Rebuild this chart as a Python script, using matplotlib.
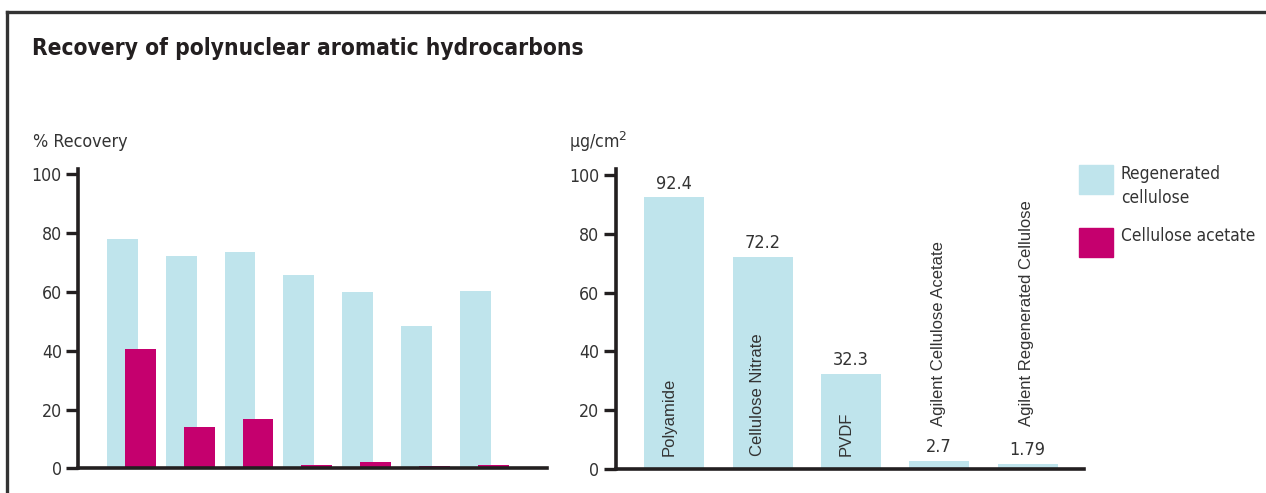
import numpy as np
from matplotlib import pyplot as plt
from matplotlib.lines import Line2D
from matplotlib.patches import Rectangle
from matplotlib import font_manager as fm

# data
groups = np.arange(7)
regenerated = [78.1, 72.2, 73.6, 65.8, 59.9, 48.3, 60.3]
acetate = [40.5, 14.1, 16.9, 1.1, 2.2, 0.8, 1.1]

membranes = ["Polyamide", "Cellulose Nitrate", "PVDF",
             "Agilent Cellulose Acetate", "Agilent Regenerated Cellulose"]
extract = [92.4, 72.2, 32.3, 2.7, 1.79]
extract_lbl = ["92.4", "72.2", "32.3", "2.7", "1.79"]
yticks = [0, 20, 40, 60, 80, 100]

blue = "#bfe4ec"
pink = "#c5006e"
ink = "#231f20"
grey = "#333333"

# look for a narrow sans face, fall back to Liberation Sans
def find_face(bold):
    best = None
    for f in fm.fontManager.ttflist:
        narrow = ("Narrow" in f.name or "Condensed" in f.name
                  or f.stretch in ("condensed", "semi-condensed", "extra-condensed"))
        if not narrow or f.style != "normal" or "Mono" in f.name or "Serif" in f.name:
            continue
        w = f.weight if isinstance(f.weight, int) else (700 if f.weight == "bold" else 400)
        if (w >= 600) == bold:
            best = f.fname
            break
    if best:
        return fm.FontProperties(fname=best)
    return fm.FontProperties(family=["Liberation Sans", "DejaVu Sans"],
                             weight="bold" if bold else "normal")

reg_fp = find_face(False)
bold_fp = find_face(True)
arial = fm.FontProperties(family=["Liberation Sans", "DejaVu Sans"])

fig = plt.figure(figsize=(12.66, 4.93), dpi=100)
renderer = fig.canvas.get_renderer()

def fit(t, target, horizontal=True, k=1.0):
    # scale the font so the text spans about `target` pixels
    t.set_fontsize(10)
    bb = t.get_window_extent(renderer)
    size = bb.width if horizontal else bb.height
    t.set_fontsize(10 * target / size * k)
    return 10 * target / size * k

# reference face is narrower than ours, so grow a little past the width fit
grow = 1.12

probe = fig.text(0, 0, "100", fontproperties=reg_fp)
tick_size = fit(probe, 27, k=grow)
probe.remove()

def style_axis(ax):
    for s in ["top", "right"]:
        ax.spines[s].set_visible(False)
    for s in ["left", "bottom"]:
        ax.spines[s].set_linewidth(2.6)
        ax.spines[s].set_color(ink)
    ax.set_ylim(0, 102)
    ax.set_yticks(yticks)
    ax.set_xticks([])
    ax.tick_params(axis="y", direction="out", length=9, width=2.4, color=ink,
                   labelcolor=grey, pad=3)
    for lbl in ax.get_yticklabels():
        lbl.set_fontproperties(reg_fp)
        lbl.set_fontsize(tick_size)

# left chart
ax1 = fig.add_axes([0.0620, 0.0497, 0.3701, 0.6083])
w = 0.524
off = 0.153
ax1.bar(groups - off, regenerated, width=w, color=blue, zorder=1)
ax1.bar(groups + off, acetate, width=w, color=pink, zorder=2)
ax1.set_xlim(-0.90, 7.07)
style_axis(ax1)

# right chart
ax2 = fig.add_axes([0.4866, 0.0487, 0.3697, 0.6083])
xs = np.arange(len(membranes))
ax2.bar(xs, extract, width=0.68, color=blue)
ax2.set_xlim(-0.66, 4.64)
style_axis(ax2)

probe = fig.text(0, 0, "Agilent Regenerated Cellulose", rotation=90, fontproperties=arial)
rot_size = fit(probe, 226, horizontal=False)
probe.remove()
probe = fig.text(0, 0, "92.4", fontproperties=reg_fp)
val_size = fit(probe, 32, k=grow)
probe.remove()

for i, v in enumerate(extract):
    ax2.text(xs[i], v + 1.6, extract_lbl[i], ha="center", va="bottom",
             fontproperties=reg_fp, fontsize=val_size, color=grey)
    if v > 20:
        ax2.text(xs[i] - 0.06, 4.5, membranes[i], rotation=90, ha="center",
                 va="bottom", fontproperties=arial, fontsize=rot_size, color=grey)
    else:
        ax2.text(xs[i] - 0.01, 14.5, membranes[i], rotation=90, ha="center",
                 va="bottom", fontproperties=arial, fontsize=rot_size, color=grey)

# texts
title = fig.text(32 / 1266, 1 - 49 / 493, "Recovery of polynuclear aromatic hydrocarbons",
                 fontproperties=bold_fp, va="center", ha="left", color=ink)
fit(title, 530, k=1.03)
t = fig.text(33 / 1266, 1 - 142 / 493, "% Recovery", fontproperties=reg_fp,
             va="center", ha="left", color=grey)
fit(t, 85, k=grow)
t = fig.text(569 / 1266, 1 - 142 / 493, "µg/cm$^2$", fontproperties=reg_fp,
             va="center", ha="left", color=grey)
t.set_fontsize(tick_size)

# legend
fig.patches.append(Rectangle((1079 / 1266, 1 - 194 / 493), 34 / 1266, 29 / 493,
                             transform=fig.transFigure, color=blue))
fig.patches.append(Rectangle((1079 / 1266, 1 - 257 / 493), 34 / 1266, 29 / 493,
                             transform=fig.transFigure, color=pink))
t2 = fig.text(1121 / 1266, 1 - 236 / 493, "Cellulose acetate", fontproperties=reg_fp,
              va="center", ha="left", color=grey)
leg_size = fit(t2, 127, k=1.06)
fig.text(1121 / 1266, 1 - 186 / 493, "Regenerated\ncellulose", fontproperties=reg_fp,
         fontsize=leg_size, va="center", ha="left", color=grey, linespacing=1.45)

# frame (left and top only)
fig.add_artist(Line2D([7.5 / 1266, 7.5 / 1266], [0, 1 - 12 / 493],
                      transform=fig.transFigure, color=grey, lw=2.4))
fig.add_artist(Line2D([7.5 / 1266, 1], [1 - 12 / 493, 1 - 12 / 493],
                      transform=fig.transFigure, color=grey, lw=2.4))

fig.savefig("out.png", dpi=100)
